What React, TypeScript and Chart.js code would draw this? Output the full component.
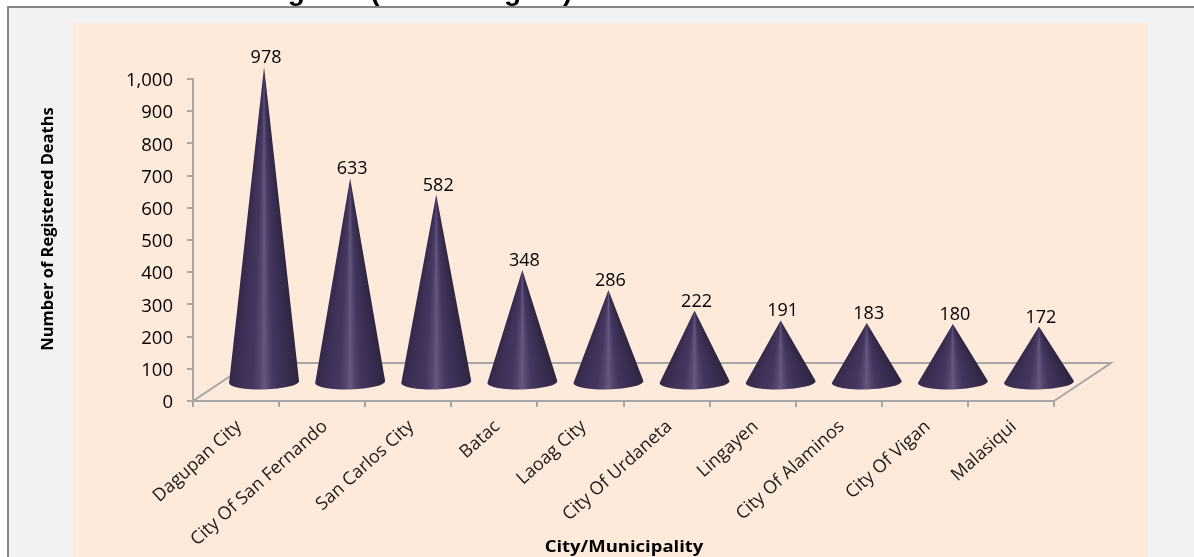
import React, { useEffect, useRef } from "react";
import { Chart, registerables } from "chart.js";

Chart.register(...registerables);

const categories = [
  "Dagupan City",
  "City Of San Fernando",
  "San Carlos City",
  "Batac",
  "Laoag City",
  "City Of Urdaneta",
  "Lingayen",
  "City Of Alaminos",
  "City Of Vigan",
  "Malasiqui",
];
const deaths = [978, 633, 582, 348, 286, 222, 191, 183, 180, 172];
const titleText = "Region I (Ilocos Region)";
const yAxisTitle = "Number of Registered Deaths";
const xAxisTitle = "City/Municipality";

const DEPTH_X = 57;
const DEPTH_Y = 38;
const GRAY = "#a6a6a6";

const conePlugin = {
  id: "cones",
  beforeDatasetsDraw(chart: any) {
    const { ctx, scales } = chart;
    const x0 = scales.x.left;
    const x1 = scales.x.right;
    const y0 = scales.y.getPixelForValue(0);
    ctx.save();
    ctx.strokeStyle = GRAY;
    ctx.lineWidth = 2;
    ctx.beginPath();
    ctx.moveTo(x0, y0);
    ctx.lineTo(x0 + DEPTH_X, y0 - DEPTH_Y);
    ctx.lineTo(x1 + DEPTH_X, y0 - DEPTH_Y);
    ctx.lineTo(x1, y0);
    ctx.stroke();
    ctx.restore();
  },
  afterDatasetsDraw(chart: any) {
    const { ctx, scales } = chart;
    const meta = chart.getDatasetMeta(0);
    const y0 = scales.y.getPixelForValue(0);
    const baseY = y0 - 19;
    const halfW = 35;
    const ry = 7.5;
    const stops: [number, string][] = [
      [0, "#2e2541"],
      [0.2, "#3b2e54"],
      [0.36, "#44365f"],
      [0.44, "#54466e"],
      [0.5, "#66587e"],
      [0.56, "#54466e"],
      [0.66, "#44365f"],
      [0.82, "#3f3159"],
      [1, "#33294a"],
    ];
    meta.data.forEach((bar: any, i: number) => {
      const cx = bar.x + 28;
      const h = y0 - scales.y.getPixelForValue(deaths[i]);
      const tipY = baseY - h;
      const a1 = Math.atan2(h, halfW);
      const a2 = Math.atan2(h, -halfW);
      const start = a1 - 0.1;
      const g = ctx.createConicGradient(start, cx, tipY);
      const span = a2 - a1;
      g.addColorStop(0, stops[0][1]);
      stops.forEach(([f, c]) => g.addColorStop((0.1 + f * span) / (2 * Math.PI), c));
      g.addColorStop(1, stops[stops.length - 1][1]);
      ctx.save();
      ctx.fillStyle = g;
      ctx.beginPath();
      ctx.moveTo(cx, tipY);
      ctx.ellipse(cx, baseY, halfW, ry, -0.03, 0, Math.PI);
      ctx.closePath();
      ctx.fill();
      ctx.fillStyle = "#000000";
      ctx.font = "18px 'Open Sans', sans-serif";
      ctx.textAlign = "center";
      ctx.textBaseline = "alphabetic";
      ctx.fillText(String(deaths[i]), cx + 2, tipY - 4);
      ctx.restore();
    });
  },
};

const bgPlugin = {
  id: "panel",
  beforeDraw(chart: any) {
    const { ctx } = chart;
    ctx.save();
    ctx.fillStyle = "#f2f2f2";
    ctx.fillRect(7, 7, 1187, 550);
    ctx.strokeStyle = "#868686";
    ctx.lineWidth = 2;
    ctx.beginPath();
    ctx.moveTo(8, 557);
    ctx.lineTo(8, 7);
    ctx.lineTo(1194, 7);
    ctx.stroke();
    ctx.fillStyle = "#fdeada";
    ctx.fillRect(73, 23, 1075, 534);
    ctx.fillStyle = "#000000";
    ctx.font = "bold 28px 'Liberation Sans', sans-serif";
    ctx.textAlign = "left";
    ctx.textBaseline = "alphabetic";
    ctx.fillText(titleText, 252, 0);
    ctx.textAlign = "center";
    ctx.save();
    ctx.translate(624, 552);
    ctx.scale(1.12, 1);
    ctx.font = "bold 16.5px 'Open Sans', sans-serif";
    ctx.fillText(xAxisTitle, 0, 0);
    ctx.restore();
    ctx.font = "bold 16.5px 'Open Sans', sans-serif";
    ctx.translate(53, 229);
    ctx.rotate(-Math.PI / 2);
    ctx.fillText(yAxisTitle, 0, 0);
    ctx.restore();
  },
};

export default function App() {
  const ref = useRef<HTMLCanvasElement>(null);
  useEffect(() => {
    const chart = new Chart(ref.current!, {
      type: "bar",
      data: {
        labels: categories,
        datasets: [{ data: deaths, backgroundColor: "rgba(0,0,0,0)", borderWidth: 0 }],
      },
      options: {
        responsive: false,
        animation: false,
        layout: { padding: { left: 0, right: 140, top: 79, bottom: 0 } },
        plugins: { legend: { display: false }, title: { display: false }, tooltip: { enabled: false } },
        scales: {
          x: {
            position: "bottom",
            grid: { display: true, drawOnChartArea: false, drawTicks: true, tickLength: 6, color: GRAY, lineWidth: 2, offset: true },
            border: { color: GRAY, width: 2 },
            ticks: {
              color: "#1a1a1a",
              font: { family: "'Open Sans', sans-serif", size: 18 },
              maxRotation: 42,
              minRotation: 42,
              autoSkip: false,
              padding: 9,
              labelOffset: 3,
            },
            afterFit(scale: any) {
              scale.height = 156;
            },
          },
          y: {
            min: 0,
            max: 1000,
            grid: { display: true, drawOnChartArea: false, drawTicks: true, tickLength: 6, color: GRAY, lineWidth: 2 },
            border: { color: GRAY, width: 2 },
            ticks: {
              stepSize: 100,
              color: "#000000",
              font: { family: "'Open Sans', sans-serif", size: 18.5 },
              padding: 14,
              labelOffset: 2,
              callback: (v: any) => Number(v).toLocaleString("en-US"),
            },
            afterFit(scale: any) {
              scale.width = 193;
            },
          },
        },
      },
      plugins: [bgPlugin, conePlugin],
    } as any);
    return () => chart.destroy();
  }, []);
  return (
    <canvas
      ref={ref}
      width={1194}
      height={557}
      style={{ position: "fixed", left: 0, top: 0, width: 1194, height: 557, display: "block" }}
    />
  );
}
